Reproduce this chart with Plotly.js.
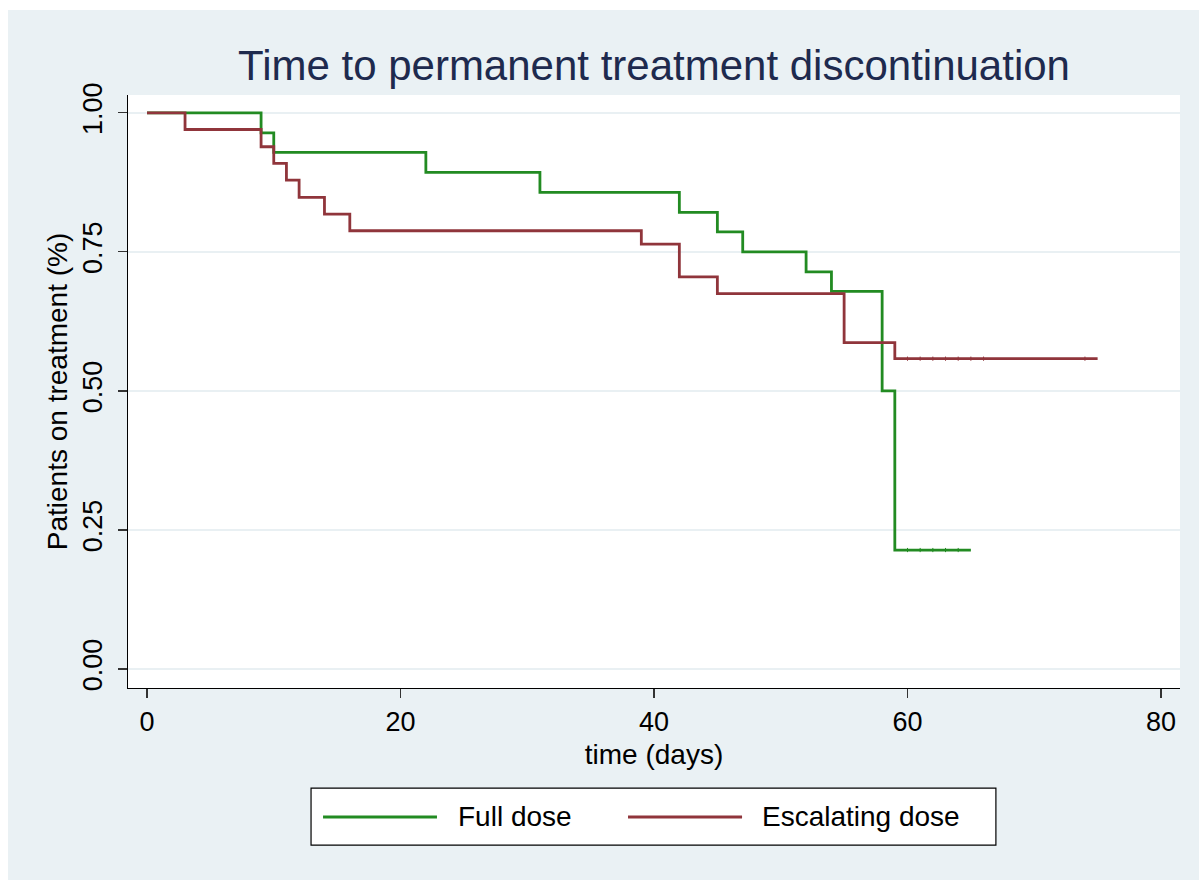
<!DOCTYPE html>
<html>
<head>
<meta charset="utf-8">
<script src="https://cdn.plot.ly/plotly-3.0.1.min.js"></script>
<style>
  html, body { margin: 0; padding: 0; background: #ffffff; width: 1199px; height: 880px; overflow: hidden; }
  #chart { position: absolute; left: 8px; top: 10px; width: 1191px; height: 870px; }
</style>
</head>
<body>
<div id="chart"></div>
<script>
// Kaplan-Meier estimates
const seriesNames = ["Full dose", "Escalating dose"];

const fullTime = [0, 9, 10, 22, 31, 42, 45, 47, 52, 54, 58, 59, 65];
const fullSurv = [1.0, 0.964, 0.929, 0.893, 0.857, 0.821, 0.786, 0.750, 0.714, 0.679, 0.500, 0.214, 0.214];
const fullCensor = [60, 61, 62, 63, 64];

const escTime = [0, 3, 9, 10, 11, 12, 14, 16, 39, 42, 45, 55, 59, 75];
const escSurv = [1.0, 0.970, 0.939, 0.909, 0.879, 0.848, 0.818, 0.788, 0.764, 0.705, 0.675, 0.587, 0.558, 0.558];
const escCensor = [60, 61, 62, 63, 64, 65, 66, 74];

const xTicks = [0, 20, 40, 60, 80];
const yTicks = [0, 0.25, 0.5, 0.75, 1.0];
const yTickText = ["0.00", "0.25", "0.50", "0.75", "1.00"];

const seriesColors = ["#228b22", "#90353b"];

function survAt(times, surv, t) {
  let s = surv[0];
  for (let i = 0; i < times.length; i++) { if (times[i] <= t) s = surv[i]; }
  return s;
}

const traces = [
  { x: fullTime, y: fullSurv, type: "scatter", mode: "lines", name: seriesNames[0],
    line: { shape: "hv", color: seriesColors[0], width: 2.8 } },
  { x: escTime, y: escSurv, type: "scatter", mode: "lines", name: seriesNames[1],
    line: { shape: "hv", color: seriesColors[1], width: 2.8 } },
  { x: fullCensor, y: fullCensor.map(t => survAt(fullTime, fullSurv, t)), type: "scatter", mode: "markers",
    showlegend: false, hoverinfo: "skip",
    marker: { symbol: "line-ns", size: 3, line: { color: seriesColors[0], width: 1 } } },
  { x: escCensor, y: escCensor.map(t => survAt(escTime, escSurv, t)), type: "scatter", mode: "markers",
    showlegend: false, hoverinfo: "skip",
    marker: { symbol: "line-ns", size: 3, line: { color: seriesColors[1], width: 1 } } }
];

const fontFam = "Liberation Sans, Arial, Helvetica, sans-serif";

// Legend box drawn below the plot (Stata style)
const legBox = { x0: 0.174, x1: 0.825, y0: -0.265, y1: -0.169 };
const legLineY = -0.2175;
const legItems = [
  { lx0: 0.1854, lx1: 0.2937, tx: 0.3118 },
  { lx0: 0.4753, lx1: 0.5837, tx: 0.6008 }
];

const shapes = [
  { type: "rect", xref: "paper", yref: "paper", x0: legBox.x0, x1: legBox.x1, y0: legBox.y0, y1: legBox.y1,
    fillcolor: "#ffffff", line: { color: "#000000", width: 1.2 }, layer: "above" }
];
const annotations = [];
legItems.forEach((it, i) => {
  shapes.push({ type: "line", xref: "paper", yref: "paper", x0: it.lx0, x1: it.lx1, y0: legLineY, y1: legLineY,
    line: { color: seriesColors[i], width: 2.8 } });
  annotations.push({ xref: "paper", yref: "paper", x: it.tx, y: legLineY, xanchor: "left", yanchor: "middle",
    text: seriesNames[i], showarrow: false, font: { size: 28, family: fontFam, color: "#000000" } });
});

const layout = {
  width: 1191, height: 870,
  paper_bgcolor: "#eaf1f4",
  plot_bgcolor: "#ffffff",
  margin: { l: 120, r: 19, t: 85, b: 192 },
  font: { family: fontFam, color: "#000000", size: 28 },
  title: {
    text: "Time to permanent treatment discontinuation",
    font: { family: fontFam, size: 42, color: "#1e2a4e" },
    x: 0.5, xref: "paper", xanchor: "center",
    y: 0.937, yref: "container", yanchor: "middle"
  },
  xaxis: {
    range: [-1.5, 81.5],
    tickvals: xTicks,
    ticks: "outside", ticklen: 9, tickwidth: 1.2, tickcolor: "#333333",
    showline: true, linecolor: "#000000", linewidth: 1.2,
    showgrid: false, zeroline: false,
    tickfont: { size: 27, family: fontFam },
    title: { text: "time (days)", font: { size: 28, family: fontFam }, standoff: 8 }
  },
  yaxis: {
    range: [-0.034, 1.032],
    tickvals: yTicks, ticktext: yTickText,
    tickangle: -90,
    ticks: "outside", ticklen: 9, tickwidth: 1.2, tickcolor: "#333333",
    ticklabelstandoff: 5,
    showline: true, linecolor: "#000000", linewidth: 1.2,
    showgrid: true, gridcolor: "#e9f0f3", gridwidth: 1.5,
    zeroline: false,
    automargin: true,
    tickfont: { size: 27, family: fontFam },
    title: { text: "Patients on treatment (%)", font: { size: 28, family: fontFam }, standoff: 2 }
  },
  showlegend: false,
  shapes: shapes,
  annotations: annotations
};

Plotly.newPlot("chart", traces, layout, { displayModeBar: false, staticPlot: true });
</script>
</body>
</html>
